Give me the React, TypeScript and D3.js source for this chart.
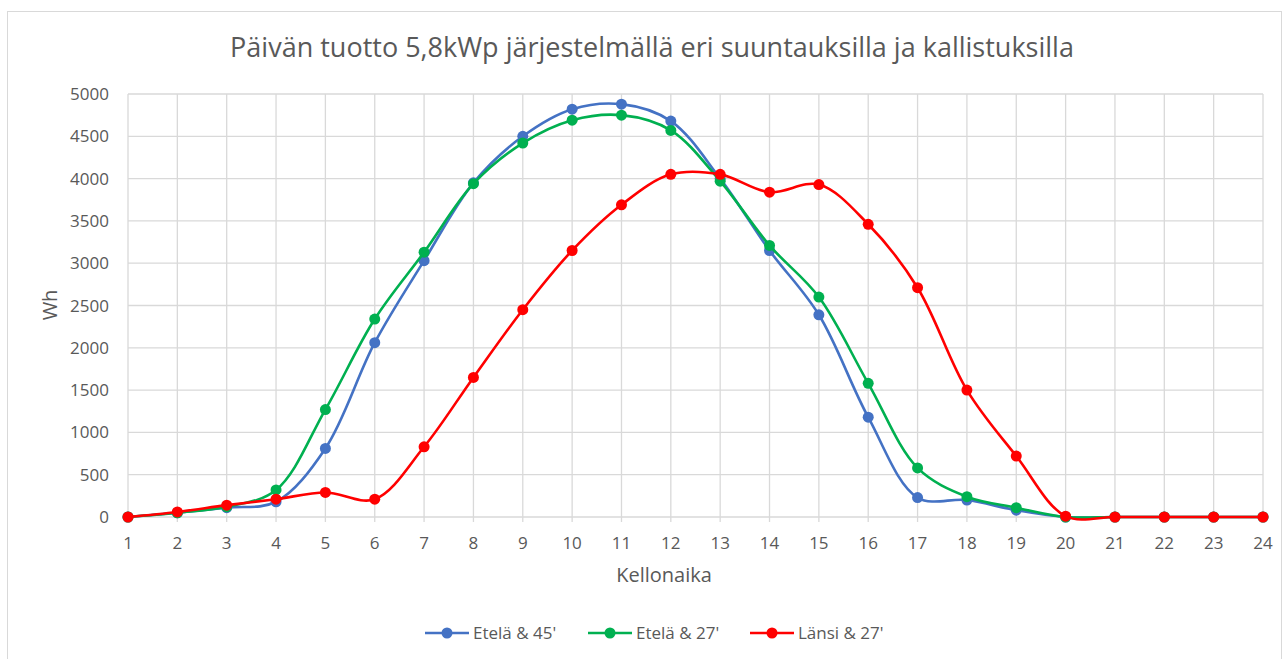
import React, { useEffect, useRef } from 'react';
import * as d3 from 'd3';

const hours = d3.range(1, 25);
const etela45 = [0, 50, 110, 180, 810, 2060, 3030, 3950, 4500, 4820, 4880, 4680, 4000, 3150, 2390, 1180, 230, 200, 80, 0, 0, 0, 0, 0];
const etela27 = [0, 50, 120, 320, 1270, 2340, 3130, 3940, 4420, 4690, 4750, 4570, 3970, 3210, 2600, 1580, 580, 240, 110, 0, 0, 0, 0, 0];
const lansi27 = [0, 60, 140, 210, 290, 210, 830, 1650, 2450, 3150, 3690, 4050, 4050, 3840, 3930, 3460, 2710, 1500, 720, 10, 0, 0, 0, 0];
const yTicks = [0, 500, 1000, 1500, 2000, 2500, 3000, 3500, 4000, 4500, 5000];

const seriesNames = ["Etelä & 45'", "Etelä & 27'", "Länsi & 27'"];
const seriesColors = ['#4472C4', '#00B050', '#FF0000'];

const App = () => {
  const svgRef = useRef(null);

  useEffect(() => {
    const width = 1288;
    const height = 659;
    const font = '"Open Sans", "Liberation Sans", sans-serif';
    const textColor = '#595959';

    const svg = d3.select(svgRef.current);
    svg.selectAll('*').remove();
    svg.attr('width', width).attr('height', height);

    // chart frame
    svg.append('rect')
      .attr('x', 7.5).attr('y', 11.5)
      .attr('width', 1274).attr('height', 660)
      .attr('fill', '#fff').attr('stroke', '#d9d9d9');

    // title
    svg.append('text')
      .attr('x', 652).attr('y', 57)
      .attr('text-anchor', 'middle')
      .style('font-family', font).style('font-size', '27px')
      .attr('fill', textColor)
      .text('Päivän tuotto 5,8kWp järjestelmällä eri suuntauksilla ja kallistuksilla');

    const x = d3.scalePoint<number>().domain(hours).range([128, 1263]);
    const y = d3.scaleLinear().domain([0, 5000]).range([517, 94]);

    // gridlines
    const grid = svg.append('g').attr('stroke', '#d9d9d9').attr('stroke-width', 1.3);
    yTicks.forEach(t => {
      grid.append('line')
        .attr('x1', 128).attr('x2', 1263)
        .attr('y1', y(t)).attr('y2', y(t));
    });
    hours.forEach(h => {
      grid.append('line')
        .attr('x1', x(h)!).attr('x2', x(h)!)
        .attr('y1', y(5000)).attr('y2', y(0) + 5);
    });

    // y tick labels
    yTicks.forEach(t => {
      svg.append('text')
        .attr('x', 109).attr('y', y(t) + 6)
        .attr('text-anchor', 'end')
        .style('font-family', font).style('font-size', '17px')
        .attr('fill', textColor)
        .text(t);
    });

    // x tick labels
    hours.forEach(h => {
      svg.append('text')
        .attr('x', x(h)!).attr('y', 549)
        .attr('text-anchor', 'middle')
        .style('font-family', font).style('font-size', '17px')
        .attr('fill', textColor)
        .text(h);
    });

    // axis titles
    svg.append('text')
      .attr('x', 664).attr('y', 582)
      .attr('text-anchor', 'middle')
      .style('font-family', font).style('font-size', '20px')
      .attr('fill', textColor)
      .text('Kellonaika');

    svg.append('text')
      .attr('transform', 'translate(57,305) rotate(-90)')
      .attr('text-anchor', 'middle')
      .style('font-family', font).style('font-size', '20px')
      .attr('fill', textColor)
      .text('Wh');

    const allSeries = [etela45, etela27, lansi27];
    const line = d3.line<number>()
      .x((_, i) => x(hours[i])!)
      .y(d => y(d))
      .curve(d3.curveCatmullRom.alpha(0.5));

    allSeries.forEach((vals, si) => {
      const g = svg.append('g');
      g.append('path')
        .attr('d', line(vals))
        .attr('fill', 'none')
        .attr('stroke', seriesColors[si])
        .attr('stroke-width', 2.6);
      vals.forEach((v, i) => {
        g.append('circle')
          .attr('cx', x(hours[i])!).attr('cy', y(v))
          .attr('r', 5.5)
          .attr('fill', seriesColors[si]);
      });
    });

    // legend
    const legendX = [425, 588, 750];
    seriesNames.forEach((name, i) => {
      const lg = svg.append('g').attr('transform', `translate(${legendX[i]},633)`);
      lg.append('line')
        .attr('x1', 0).attr('x2', 44)
        .attr('stroke', seriesColors[i]).attr('stroke-width', 2.6);
      lg.append('circle').attr('cx', 22).attr('r', 5.5).attr('fill', seriesColors[i]);
      lg.append('text')
        .attr('x', 48).attr('y', 6)
        .style('font-family', font).style('font-size', '17px')
        .attr('fill', textColor)
        .text(name);
    });
  }, []);

  return (
    <svg ref={svgRef} style={{ position: 'absolute', left: 0, top: 0, display: 'block' }}></svg>
  );
};

export default App;
